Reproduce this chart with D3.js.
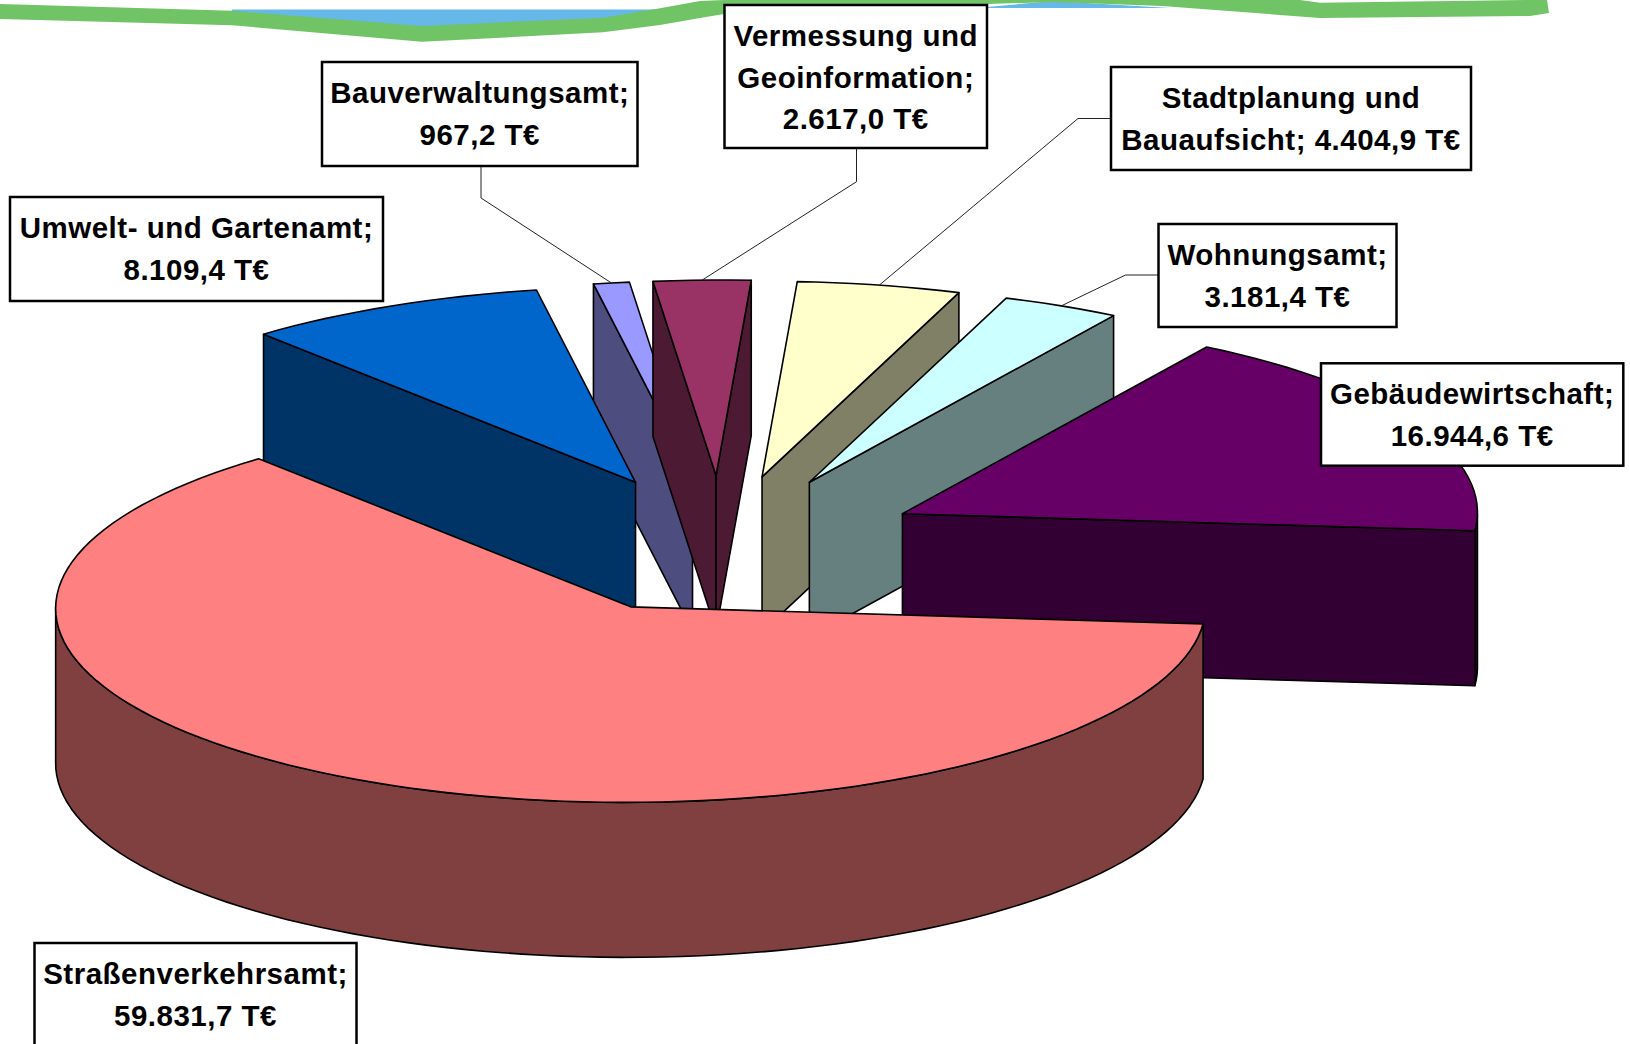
<!DOCTYPE html>
<html>
<head>
<meta charset="utf-8">
<style>
html,body{margin:0;padding:0;background:#fff;overflow:hidden}
svg{display:block}
text{font-family:"Liberation Sans",Arial,sans-serif;font-weight:700;fill:#000}
</style>
<script src="https://cdnjs.cloudflare.com/ajax/libs/d3/7.8.5/d3.min.js"></script>
</head>
<body>
<script>
// ---- data ----
const categories = ["Straßenverkehrsamt","Umwelt- und Gartenamt","Bauverwaltungsamt","Vermessung und Geoinformation","Stadtplanung und Bauaufsicht","Wohnungsamt","Gebäudewirtschaft"];
const values = [59831.7,8109.4,967.2,2617.0,4404.9,3181.4,16944.6];
const topColors = ["#FF8080","#0066CC","#9999FF","#993366","#FFFFCC","#CCFFFF","#660066"];
const sideColors = ["#804040","#003366","#4D4D80","#4D1A33","#808066","#668080","#330033"];
const paintOrder = [2,3,1,4,5,6,0];
// wrapped name lines; the value is appended to the last one or set on its own line
const nameLines = [["Straßenverkehrsamt;"],["Umwelt- und Gartenamt;"],["Bauverwaltungsamt;"],["Vermessung und","Geoinformation;"],["Stadtplanung und"],["Wohnungsamt;"],["Gebäudewirtschaft;"]];
const inlinePrefix = [null,null,null,null,"Bauaufsicht;",null,null];

// ---- layout ----
const W=1630,H=1044;
const cx=722.5,cy=545,rx=575,ry=195.5,depth=155,explodeX=201.5,explodeY=69.5,shear=4.5;
const firstAngle=5*Math.PI/180;
const boxes=[[34.5,943,356.5,1046],[10,197,383,301],[322,62,637.5,166],[724.5,5,987,148],[1111,67,1471,170],[1158.5,224,1396.5,327],[1321,363.3,1623.3,465.7]];
// leader: elbow point and box attach point
const leaders=[null,null,[[481,166],[481,198]],[[856.5,148],[856.5,181.7]],[[1111,118.5],[1078,118.5]],[[1158.5,275],[1125.5,275]],null];
const fontSize=29.5,lineStep=41.5,firstBaseline=41;

const loc=d3.formatLocale({decimal:",",thousands:".",grouping:[3],currency:["",""]});
const fmt=v=>loc.format(",.1f")(v)+" T€";

const svg=d3.select("body").append("svg").attr("width",W).attr("height",H).attr("viewBox",`0 0 ${W} ${H}`);

// decorative band at the top
const bandBlue=[[[232,9.5],[690,9.5],[603,25],[422,30],[232,15]],[[975,8],[1053,1],[1170,8]]];
const bandGreen=[[0,4],[232,10.7],[422,26],[603,17.7],[660,8.3],[700,1],[724,0],[1300,0],[1320,2.7],[1530,0],[1547,0],[1549,13],[1530,16],[1320,18],[1162,6],[1053,2],[988,4],[880,6],[724,14],[700,18],[660,25],[603,32.3],[422,41.7],[232,25.3],[0,19]];
const poly=d3.line().curve(d3.curveLinearClosed);
svg.selectAll("path.blue").data(bandBlue).join("path").attr("class","blue").attr("d",poly).attr("fill","#66B8E8");
svg.append("path").attr("d",poly(bandGreen)).attr("fill","#70C466");

// ---- pie geometry ----
const pie=d3.pie().sort(null).startAngle(firstAngle).endAngle(firstAngle+2*Math.PI);
const arcs=pie(values);
const project=(a,dz,o)=>[o[0]+rx*Math.cos(a)-shear*Math.sin(a),o[1]+ry*Math.sin(a)+dz];
function arcPts(a0,a1,o,dz){
  const n=Math.max(2,Math.ceil((a1-a0)/(Math.PI/90)));
  return d3.range(n+1).map(i=>project(a0+(a1-a0)*i/n,dz,o));
}
const line=d3.line();
const g=svg.append("g");
paintOrder.forEach(i=>{
  const a0=arcs[i].startAngle,a1=arcs[i].endAngle,m=(a0+a1)/2;
  const o=[cx+explodeX*Math.cos(m),cy+explodeY*Math.sin(m)];
  const apex=o,apexB=[o[0],o[1]+depth];
  const slice=g.append("g");
  const wall=pts=>slice.append("path").attr("d",poly(pts)).attr("fill",sideColors[i]).attr("stroke","#000").attr("stroke-width",1.6).attr("stroke-linejoin","round");
  // cut faces
  if(Math.cos(a0)<0) wall([apex,project(a0,0,o),project(a0,depth,o),apexB]);
  if(Math.cos(a1)>0) wall([apex,project(a1,0,o),project(a1,depth,o),apexB]);
  // rim, front half only
  [0,1].forEach(k=>{
    const s=Math.max(a0,2*Math.PI*k),e=Math.min(a1,2*Math.PI*k+Math.PI);
    if(e>s) wall(arcPts(s,e,o,0).concat(arcPts(s,e,o,depth).reverse()));
  });
  // top face
  slice.append("path").attr("d",poly([apex].concat(arcPts(a0,a1,o,0)))).attr("fill",topColors[i]).attr("stroke","#000").attr("stroke-width",1.6).attr("stroke-linejoin","round");
});

// leaders
arcs.forEach((d,i)=>{
  if(!leaders[i])return;
  const m=(d.startAngle+d.endAngle)/2;
  const o=[cx+explodeX*Math.cos(m),cy+explodeY*Math.sin(m)];
  svg.append("path").attr("d",line(leaders[i].concat([project(m,0,o)]))).attr("fill","none").attr("stroke","#222").attr("stroke-width",1);
});

// labels
const labels=svg.append("g");
categories.forEach((c,i)=>{
  const b=boxes[i];
  labels.append("rect").attr("x",b[0]).attr("y",b[1]).attr("width",b[2]-b[0]).attr("height",b[3]-b[1]).attr("fill","#fff").attr("stroke","#000").attr("stroke-width",2.5);
  const lines=nameLines[i].slice();
  lines.push(inlinePrefix[i]?inlinePrefix[i]+" "+fmt(values[i]):fmt(values[i]));
  lines.forEach((t,j)=>{
    labels.append("text").attr("x",(b[0]+b[2])/2).attr("y",b[1]+firstBaseline+j*lineStep).attr("text-anchor","middle").attr("font-size",fontSize).attr("letter-spacing",0.5).text(t);
  });
});
</script>
</body>
</html>
